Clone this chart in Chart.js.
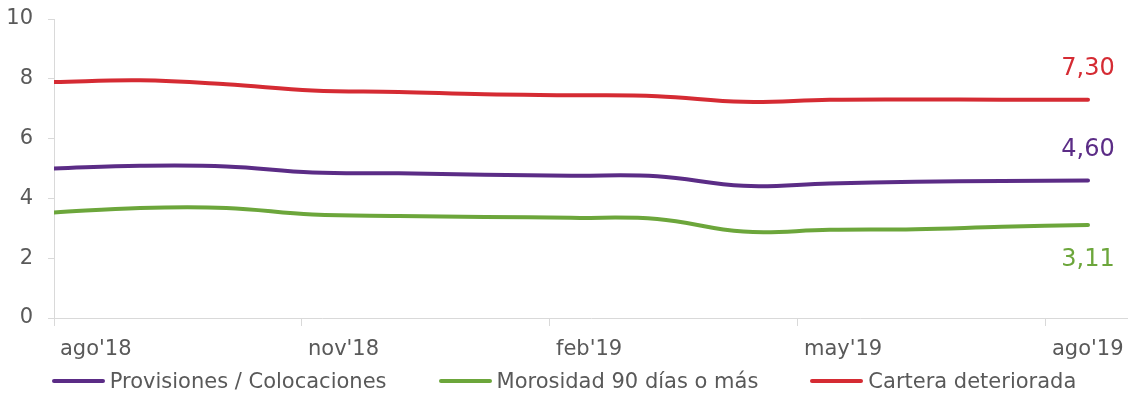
<!DOCTYPE html>
<html>
<head>
<meta charset="utf-8">
<script src="https://cdn.jsdelivr.net/npm/chart.js@4.4.1/dist/chart.umd.min.js"></script>
<style>
  html, body { margin: 0; padding: 0; background: #fff; }
  #wrap { position: relative; width: 1128px; height: 393px; }
  #legend {
    position: absolute; left: 0; right: 0; top: 368px;
    display: flex; justify-content: center;
    font: 21px "DejaVu Sans", Verdana, sans-serif; color: #595959; line-height: 26px;
  }
  .item { display: flex; align-items: center; margin: 0 26px; }
  .swatch { width: 53px; height: 4px; border-radius: 2px; margin-right: 5px; }
</style>
</head>
<body>
<div id="wrap">
  <canvas id="chart" width="1128" height="393"></canvas>
  <div id="legend"></div>
</div>
<script>
const FONT = "'DejaVu Sans', Verdana, sans-serif";
const TEXT = "#595959";
const AXIS = "#d9d9d9";

// monthly series, ago'18 .. ago'19
const MONTHS = ["ago'18", "sep'18", "oct'18", "nov'18", "dic'18", "ene'19", "feb'19",
  "mar'19", "abr'19", "may'19", "jun'19", "jul'19", "ago'19"];
const AXIS_LABELS = ["ago'18", "nov'18", "feb'19", "may'19", "ago'19"];

const PROVISIONES = [5.00, 5.09, 5.07, 4.87, 4.84, 4.79, 4.76, 4.74, 4.42, 4.50, 4.56, 4.58, 4.60];
const MOROSIDAD = [3.53, 3.68, 3.68, 3.46, 3.41, 3.38, 3.35, 3.31, 2.89, 2.95, 2.97, 3.05, 3.11];
const CARTERA = [7.89, 7.95, 7.82, 7.61, 7.56, 7.48, 7.45, 7.42, 7.23, 7.30, 7.31, 7.30, 7.30];

// axis labels sit every ~2.88 months on the category index scale
const TICK_STEP = 2.878;
const X_MAX = 12.464;

const series = [
  { label: "Provisiones / Colocaciones", values: PROVISIONES, color: "#5b2c86", shift: -31 },
  { label: "Morosidad 90 días o más", values: MOROSIDAD, color: "#6ca63b", shift: 35 },
  { label: "Cartera deteriorada", values: CARTERA, color: "#d52b33", shift: -31 },
];

function fmtComma(v) {
  return v.toFixed(2).replace(".", ",");
}

// last value of each line printed next to its end point
const endLabels = {
  id: "endLabels",
  afterDatasetsDraw(chart) {
    const ctx = chart.ctx;
    chart.data.datasets.forEach((ds, i) => {
      const pts = chart.getDatasetMeta(i).data;
      const last = pts[pts.length - 1];
      const v = ds.data[ds.data.length - 1].y;
      ctx.save();
      ctx.font = "24px " + FONT;
      ctx.fillStyle = ds.borderColor;
      ctx.textAlign = "center";
      ctx.textBaseline = "middle";
      ctx.fillText(fmtComma(v), last.x, last.y + ds.labelShift);
      ctx.restore();
    });
  },
};

new Chart(document.getElementById("chart"), {
  type: "line",
  data: {
    datasets: series.map((s) => ({
      label: s.label,
      data: s.values.map((v, i) => ({ x: i, y: v })),
      borderColor: s.color,
      backgroundColor: s.color,
      borderWidth: 4,
      borderCapStyle: "round",
      pointRadius: 0,
      tension: 0.4,
      labelShift: s.shift,
    })),
  },
  options: {
    responsive: false,
    animation: false,
    layout: { padding: { top: 19, right: 0, bottom: 0, left: 0 } },
    scales: {
      x: {
        type: "linear",
        min: 0,
        max: X_MAX,
        afterBuildTicks: (scale) => {
          scale.ticks = AXIS_LABELS.map((_, k) => ({ value: k * TICK_STEP }));
        },
        afterFit: (scale) => { scale.height = 75; scale.paddingLeft = 0; scale.paddingRight = 0; },
        grid: { drawOnChartArea: false, drawTicks: true, tickLength: 8, color: AXIS },
        border: { color: AXIS, width: 1 },
        ticks: {
          align: "start",
          labelOffset: 6,
          padding: 11,
          maxRotation: 0,
          autoSkip: false,
          color: TEXT,
          font: { family: FONT, size: 21 },
          callback: (v, idx) => AXIS_LABELS[idx],
        },
      },
      y: {
        min: 0,
        max: 10,
        // keep the plot top pinned to the layout padding, not label overflow
        afterFit: (scale) => { scale.width = 54; scale.paddingTop = 0; scale.paddingBottom = 0; },
        grid: { drawOnChartArea: false, drawTicks: true, tickLength: 6, color: AXIS },
        border: { color: AXIS, width: 1 },
        ticks: {
          stepSize: 2,
          padding: 15,
          color: TEXT,
          font: { family: FONT, size: 21 },
        },
      },
    },
    plugins: {
      legend: { display: false },
      tooltip: { enabled: false },
    },
  },
  plugins: [endLabels],
});

const legend = document.getElementById("legend");
for (const s of series) {
  const item = document.createElement("span");
  item.className = "item";
  const sw = document.createElement("span");
  sw.className = "swatch";
  sw.style.background = s.color;
  const txt = document.createElement("span");
  txt.textContent = s.label;
  item.appendChild(sw);
  item.appendChild(txt);
  legend.appendChild(item);
}
</script>
</body>
</html>
